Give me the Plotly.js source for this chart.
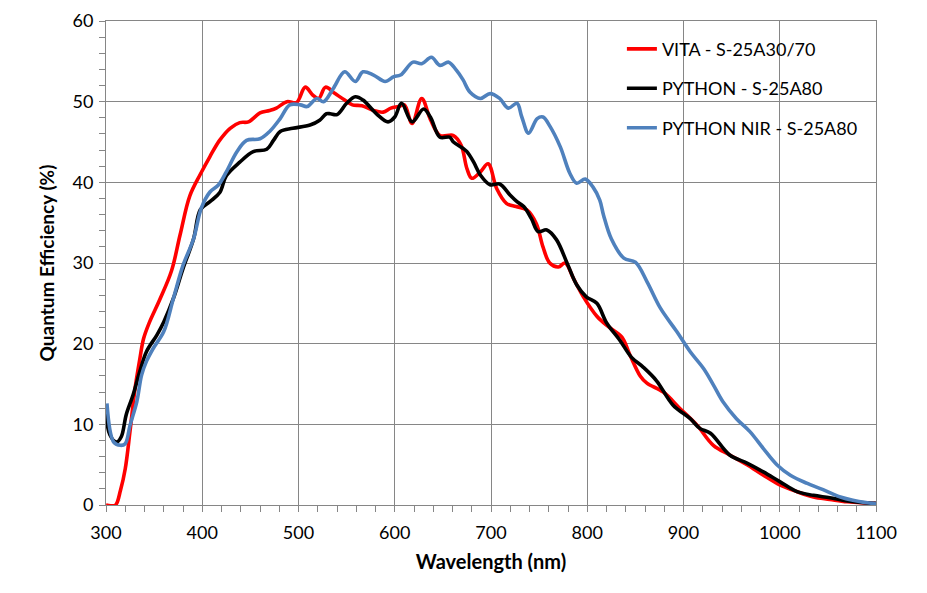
<!DOCTYPE html>
<html>
<head>
<meta charset="utf-8">
<script src="https://cdn.plot.ly/plotly-3.0.1.min.js"></script>
<style>html,body{margin:0;padding:0;background:#fff;}#chart{width:927px;height:593px;}</style>
</head>
<body>
<div id="chart"></div>
<script>
// VITA - S-25A30/70
const vitaNm = [300,305,310,315,320,325,330,335,339,345,356,368,377,387,398,408,418,429,439,448,460,470,477,488,498,507,515,521,528,538,548,556,566,578,588,596,604,610,618,628,637,647,661,669,675,680,689,697,706,716,726,737,747,754,761,770,777,786,796,810,822,836,844,855,862,879,896,914,931,948,966,983,1000,1018,1035,1052,1070,1097,1100];
const vitaQE = [0,-0.1,0,1.8,4.5,9.2,14.3,18,20.6,22.6,25.5,29,33.5,38.3,41,43.2,45.2,46.7,47.4,47.5,48.6,48.9,49.2,50,49.9,51.8,50.8,50.4,51.8,51,50.2,49.6,49.5,48.9,48.7,49.2,49.4,49.6,47.3,50.4,47.8,45.8,45.8,44.6,41.7,40.5,41.3,42.3,39.2,37.4,37,36.6,34.9,32,30,29.5,30,28,25.8,23.4,22.1,20.8,18.7,16,15.1,14,12,9.9,7.4,6.2,5,3.7,2.5,1.65,1.0,0.7,0.4,0.2,0.2];

// PYTHON - S-25A80
const pyNm = [300,304,311,316,321,328,335,342,353,360,370,380,391,398,408,418,425,439,453,467,474,481,494,512,522,529,533,540,550,559,567,581,593,600,607,618,630,637,647,657,661,671,675,682,689,699,709,720,727,734,742,749,758,768,779,789,799,810,820,834,846,858,872,889,907,917,928,948,966,983,1000,1018,1035,1052,1070,1097,1100];
const pyQE = [11.6,8.7,7.8,8.5,11.2,13.6,16.5,19,21.1,22.7,25.6,29.3,33,36.6,37.6,38.7,40.8,42.5,43.8,44.1,45.2,46.3,46.7,47.1,47.7,48.5,48.5,48.4,49.8,50.6,50.2,48.5,47.5,48.1,49.8,47.5,49.1,48.1,45.6,45.6,45,44.2,43.8,42.5,40.9,39.7,39.8,38.4,37.6,37,35.5,33.9,34.1,32.9,30,27.3,25.8,25,22.6,20.4,18.3,17.1,15.4,12.4,10.7,9.5,8.9,6.2,5.2,4.1,2.9,1.65,1.2,0.9,0.5,0.2,0.2];

// PYTHON NIR - S-25A80
const nirNm = [301,308,315,320,325,332,337,342,349,360,370,380,391,399,408,417,425,436,446,460,470,481,491,502,509,519,526,536,548,559,567,578,590,599,606,619,628,638,647,656,664,671,678,689,699,709,718,727,732,739,748,754,761,772,782,789,798,806,813,817,825,838,850,862,876,893,907,921,931,941,955,969,983,997,1011,1028,1045,1063,1076,1097,1100];
const nirQE = [12.6,7.8,7.4,7.6,9.9,12.8,16.1,17.8,19.4,21.5,25.6,29.7,33,36.8,38.8,39.7,41.3,43.8,45.2,45.4,46.3,47.9,49.6,49.6,49.4,50.4,50,51.6,53.7,52.5,53.7,53.3,52.5,53.1,53.3,54.9,54.7,55.5,54.5,54.9,53.9,52.7,51.2,50.4,51,50.4,49.2,49.8,48.1,46.1,47.9,48.1,47,44.4,41.1,39.9,40.4,39.4,37.8,35.9,33,30.6,30.1,27.7,24.4,21.5,19,16.9,14.9,12.8,10.7,9.1,7,5,3.7,2.7,1.9,1.0,0.6,0.2,0.2];

const seriesNames = ['VITA - S-25A30/70', 'PYTHON - S-25A80', 'PYTHON NIR - S-25A80'];
const xTickVals = [300,400,500,600,700,800,900,1000,1100];
const yTickVals = [0,10,20,30,40,50,60];

const FONT = 'Lato, "Open Sans", sans-serif';
const GRID = '#868686';

function tr(x, y, name, color, grp) {
  return {x: x, y: y, name: name, type: 'scatter', mode: 'lines',
    legendgroup: grp,
    line: {color: color, width: 3.6, shape: 'spline', smoothing: 1.0},
    hoverinfo: 'skip'};
}

const data = [
  tr(vitaNm, vitaQE, seriesNames[0], '#FF0000', 'a'),
  tr(pyNm, pyQE, seriesNames[1], '#000000', 'b'),
  tr(nirNm, nirQE, seriesNames[2], '#4F81BD', 'c')
];

const layout = {
  width: 927, height: 593,
  margin: {l: 106, r: 51, t: 21, b: 88},
  paper_bgcolor: '#fff', plot_bgcolor: '#fff',
  font: {family: FONT, size: 18, color: '#000'},
  showlegend: true,
  legend: {x: 0.670, y: 0.98, xanchor: 'left', yanchor: 'top',
    bgcolor: 'rgba(255,255,255,0)', borderwidth: 0, tracegroupgap: 13,
    font: {family: FONT, size: 18, color: '#000'}},
  shapes: [{type: 'rect', xref: 'paper', yref: 'paper', layer: 'between',
    x0: 0.652, x1: 0.996, y0: 0.742, y1: 0.9855,
    fillcolor: '#fff', line: {width: 0}}],
  xaxis: {
    range: [300, 1100], tickvals: xTickVals, ticktext: xTickVals.map(String),
    showgrid: true, gridcolor: GRID, gridwidth: 1,
    showline: true, linecolor: GRID, linewidth: 1, mirror: true,
    ticks: 'outside', ticklen: 6, tickcolor: GRID, ticklabelstandoff: 5,
    minor: {dtick: 20, ticks: 'outside', ticklen: 6, tickcolor: GRID, showgrid: false},
    zeroline: false, fixedrange: true,
    title: {text: '<b>Wavelength (nm)</b>', font: {family: FONT, size: 20, color: '#000'}, standoff: 13},
    tickfont: {family: FONT, size: 18, color: '#000'}
  },
  yaxis: {
    range: [0, 60], tickvals: yTickVals, ticktext: yTickVals.map(String),
    showgrid: true, gridcolor: GRID, gridwidth: 1,
    showline: true, linecolor: GRID, linewidth: 1, mirror: true,
    ticks: 'outside', ticklen: 6, tickcolor: GRID, ticklabelstandoff: 2,
    minor: {dtick: 2, ticks: 'outside', ticklen: 6, tickcolor: GRID, showgrid: false},
    zeroline: false, fixedrange: true,
    title: {text: '<b>Quantum Efficiency (%)</b>', font: {family: FONT, size: 19, color: '#000'}, standoff: 12},
    tickfont: {family: FONT, size: 18, color: '#000'}
  }
};

Plotly.newPlot('chart', data, layout, {staticPlot: true, displayModeBar: false});
</script>
</body>
</html>
